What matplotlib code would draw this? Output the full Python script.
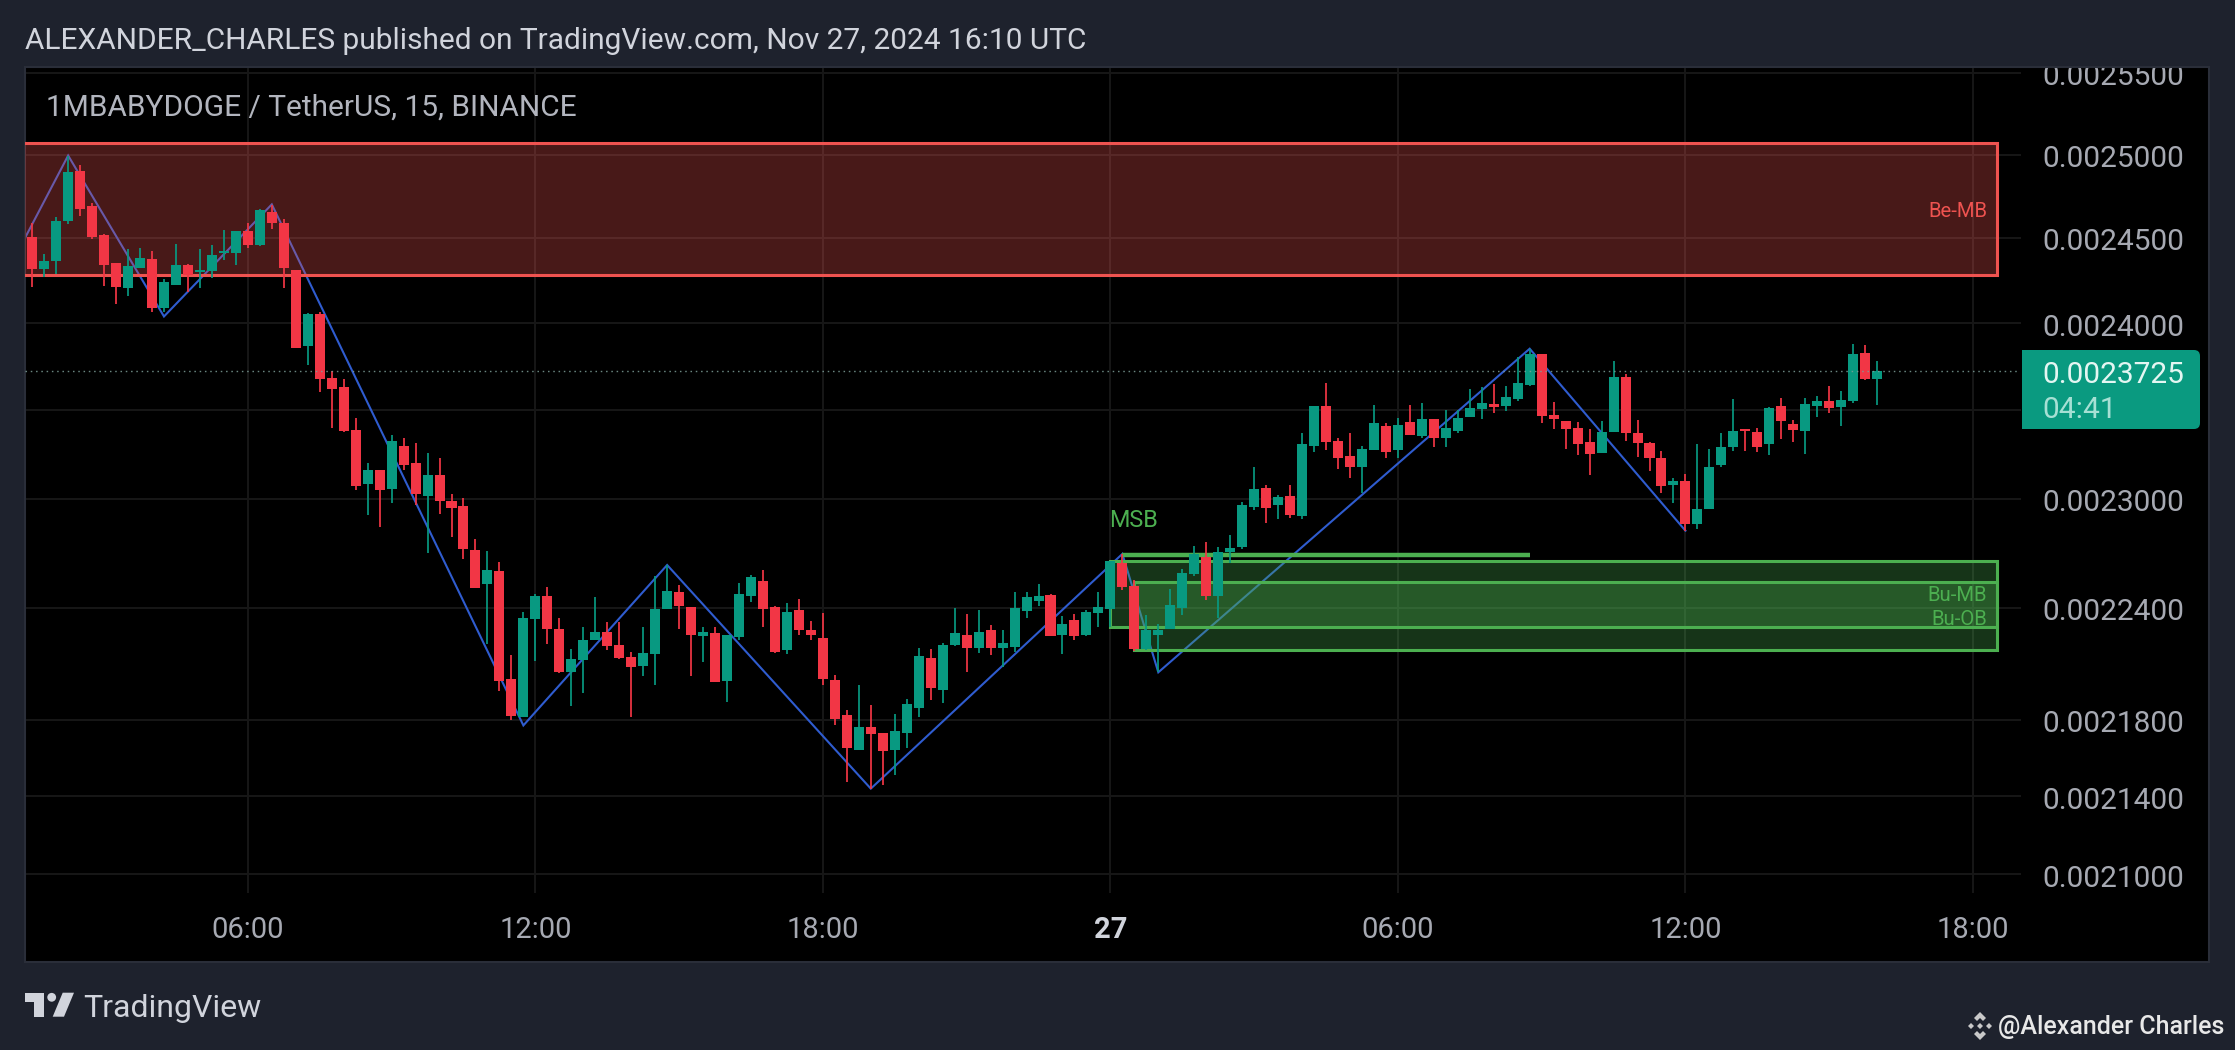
import numpy as np
import matplotlib
matplotlib.use('Agg')
import matplotlib.pyplot as plt
from matplotlib.patches import Rectangle, Polygon, Circle, FancyBboxPatch
from matplotlib.ticker import FixedLocator, FixedFormatter, NullLocator
from matplotlib.transforms import ScaledTranslation

plt.rcParams['font.family'] = ['Roboto', 'DejaVu Sans']

#------------------------------------------------------------------------------
# Kerzen, Preise in 1e-7 (15 Minuten, Index 0 = 26.11. 01:30)
opens = [24508,24317,24364,24598,24898,24688,24520,24352,24205,24323,
         24376,24087,24223,24341,24299,24305,24412,24412,24544,24459,
         24652,24586,24311,23868,24052,23684,23632,23388,23080,23158,
         23056,23293,23198,23017,23130,22989,22961,22717,22528,22600,
         22014,21816,22341,22461,22287,22052,22116,22223,22266,22196,
         22132,22084,22148,22395,22483,22406,22245,22261,22003,22239,
         22461,22544,22406,22170,22389,22282,22234,22009,21826,21639,
         21764,21732,21639,21732,21864,22127,21960,22196,22250,22180,
         22277,22180,22186,22384,22439,22467,22250,22336,22250,22373,
         22395,22644,22517,22175,22255,22287,22400,22583,22678,22461,
         22706,22733,22956,23062,22967,23017,22906,23293,23523,23321,
         23237,23175,23270,23410,23270,23433,23354,23450,23338,23382,
         23461,23506,23534,23523,23563,23643,23822,23472,23438,23399,
         23315,23254,23377,23690,23371,23310,23226,23078,23101,22861,
         22945,23186,23287,23394,23377,23304,23523,23422,23382,23523,
         23552,23517,23552,23828,23678]
closes = [24317,24364,24598,24892,24670,24508,24341,24211,24335,24382,
          24087,24240,24341,24282,24311,24400,24423,24544,24459,24664,
          24586,24323,23856,24052,23678,23620,23382,23073,23158,23050,
          23326,23186,23028,23130,22989,22950,22722,22506,22606,22003,
          21821,22346,22461,22287,22052,22121,22223,22271,22191,22127,
          22078,22153,22395,22489,22411,22250,22266,21998,22250,22472,
          22567,22395,22159,22379,22282,22255,22014,21805,21649,21764,
          21727,21634,21743,21885,22137,21971,22196,22261,22180,22266,
          22180,22207,22400,22456,22461,22245,22314,22245,22379,22406,
          22656,22511,22175,22277,22277,22417,22589,22694,22461,22706,
          22728,22967,23056,22950,23011,22911,23304,23523,23315,23226,
          23175,23276,23427,23259,23416,23360,23450,23338,23399,23455,
          23512,23540,23517,23574,23655,23822,23466,23450,23394,23304,
          23248,23377,23690,23366,23310,23226,23073,23101,22861,22945,
          23175,23287,23382,23382,23287,23512,23438,23388,23534,23552,
          23512,23557,23822,23678,23725]
highs = [24586,24406,24622,24994,24934,24706,24526,24352,24435,24441,
         24423,24258,24465,24347,24435,24459,24550,24544,24586,24670,
         24694,24610,24311,24058,24063,23724,23678,23455,23198,23158,
         23360,23343,23310,23254,23226,23028,23006,22778,22711,22650,
         22143,22379,22472,22511,22346,22175,22298,22456,22325,22325,
         22159,22293,22572,22633,22522,22406,22298,22293,22255,22533,
         22578,22606,22411,22428,22450,22330,22373,22035,21853,21982,
         21880,21732,21832,21912,22180,22175,22207,22400,22368,22389,
         22309,22277,22483,22483,22528,22472,22357,22368,22389,22483,
         22656,22694,22550,22362,22314,22500,22611,22739,22761,22733,
         22800,22983,23176,23078,23022,23078,23366,23523,23655,23343,
         23371,23293,23529,23427,23455,23529,23540,23450,23500,23500,
         23620,23632,23649,23638,23805,23851,23822,23546,23438,23433,
         23394,23438,23781,23707,23444,23315,23265,23118,23135,23304,
         23276,23366,23563,23394,23399,23517,23569,23444,23569,23580,
         23638,23609,23879,23873,23781]
lows = [24211,24270,24288,24580,24628,24494,24217,24111,24158,24323,
        24063,24063,24223,24181,24205,24264,24370,24341,24441,24453,
        24556,24205,23856,23758,23603,23399,23377,23050,22911,22845,
        22978,23158,22967,22700,22917,22789,22667,22506,22202,21955,
        21800,21816,22111,22202,22046,21875,21944,22223,22170,22121,
        21816,22030,21982,22395,22287,22030,22105,21998,21896,22223,
        22433,22293,22153,22148,22255,22223,21982,21774,21472,21639,
        21436,21457,21509,21649,21816,21907,21891,22191,22052,22153,
        22143,22078,22159,22346,22411,22245,22148,22223,22245,22298,
        22298,22494,22164,22170,22052,22287,22362,22572,22444,22346,
        22644,22722,22939,22867,22889,22894,22889,23259,23270,23164,
        23114,23034,23270,23226,23226,23360,23338,23287,23287,23371,
        23461,23450,23483,23494,23552,23638,23427,23394,23276,23242,
        23130,23254,23377,23321,23231,23153,23034,22978,22822,22833,
        22945,23175,23265,23265,23259,23242,23332,23315,23248,23461,
        23483,23410,23540,23672,23529]

# Zickzack-Linie
zigzag_k = [-0.6, 3, 11, 20, 41, 53, 70, 91, 94, 125, 138]
zigzag_p = [24500, 24994, 24038, 24700, 21770, 22633, 21439, 22694, 22052, 23851, 22822]

# Zonen: (k von, k bis, Preis unten, Preis oben)
be_mb = (-3, 164, 24282, 25070)
bu_mb = (90, 164, 22298, 22656)
bu_ob = (92, 164, 22170, 22539)
msb_line = (91, 125, 22688)

last_price = 23725

# Achsen
price_ticks = [25500, 25000, 24500, 24000, 23500, 23000, 22400, 21800, 21400, 21000]
price_labels = ['0.0025500', '0.0025000', '0.0024500', '0.0024000', '', '0.0023000',
                '0.0022400', '0.0021800', '0.0021400', '0.0021000']
time_ticks = [18, 42, 66, 90, 114, 138, 162]
time_labels = ['06:00', '12:00', '18:00', '27', '06:00', '12:00', '18:00']

UNIT = 1e-7
BG = '#1e222d'
UP = '#089981'
DOWN = '#f23645'
RED = '#ef5350'
GREEN = '#4caf50'
BLUE = '#2f5ccf'
GRID = '#161616'
LABEL = '#a6a9b2'

#------------------------------------------------------------------------------
W, H = 2235, 1050
fig = plt.figure(figsize=(W/100, H/100), dpi=100, facecolor=BG)
L, R, T, B = 25, 2209, 66.7, 962
ax = fig.add_axes([L/W, 1-B/H, (R-L)/W, (B-T)/H], facecolor='black')
ax.set_yscale('log')

o = np.array(opens)*UNIT
c = np.array(closes)*UNIT
hi = np.array(highs)*UNIT
lo = np.array(lows)*UNIT
k = np.arange(len(o))
col = np.where(c >= o, UP, DOWN)

ax.set_xlim((L-32.2)/11.98, (R-32.2)/11.98)
ax.set_ylim(20557*UNIT, 25538*UNIT)

# Gitter
for p in price_ticks:
    ax.axhline(p*UNIT, xmax=(2020-L)/(R-L), color=GRID, lw=1.5, zorder=1)
for t in time_ticks:
    ax.axvline(t, ymin=(B-892)/(B-T), color=GRID, lw=1.5, zorder=1)
ax.axhline(last_price*UNIT, xmax=(2020-L)/(R-L), color='#7d9f98', lw=1.0, ls=(0, (1.1, 2.7)), alpha=0.85, zorder=6)

# Zickzack unter den Zonen
ax.plot(zigzag_k, np.array(zigzag_p)*UNIT, color=BLUE, lw=1.5, zorder=2, solid_joinstyle='miter')

# Zonen
for box, color, a in [(be_mb, RED, 0.3), (bu_mb, GREEN, 0.3), (bu_ob, GREEN, 0.3)]:
    x0, x1, p0, p1 = box
    ax.add_patch(Rectangle((x0, p0*UNIT), x1-x0, (p1-p0)*UNIT, fc=color, ec='none', alpha=a, zorder=3))
    ax.add_patch(Rectangle((x0, p0*UNIT), x1-x0, (p1-p0)*UNIT, fc='none', ec=color, lw=2.2, zorder=3.1))
ax.plot(msb_line[:2], [msb_line[2]*UNIT]*2, color=GREEN, lw=3.2, zorder=3.2, solid_capstyle='butt')

# Kerzen
ax.vlines(k, lo, hi, colors=col, lw=1.25, zorder=4)
ax.bar(k, np.abs(c-o), bottom=np.minimum(o, c), width=0.835, color=col, lw=0, zorder=5)

# Beschriftung der Zonen
ax.text(163.17, 24660*UNIT, 'Be-MB', color=RED, fontsize=14.6, ha='right', va='center', zorder=7)
ax.text(163.17, 22468*UNIT, 'Bu-MB', color=GREEN, fontsize=14.6, ha='right', va='center', zorder=7)
ax.text(163.17, 22337*UNIT, 'Bu-OB', color=GREEN, fontsize=14.6, ha='right', va='center', zorder=7)
ax.text(91.9, 22878*UNIT, 'MSB', color=GREEN, fontsize=16.8, ha='center', va='center', zorder=7)

# Achsen im Bereich
ax.yaxis.tick_right()
ax.yaxis.set_major_locator(FixedLocator(np.array(price_ticks)*UNIT))
ax.yaxis.set_major_formatter(FixedFormatter(price_labels))
ax.yaxis.set_minor_locator(NullLocator())
ax.xaxis.set_major_locator(FixedLocator(time_ticks))
ax.xaxis.set_major_formatter(FixedFormatter(time_labels))
ax.tick_params(axis='y', length=0, pad=-119.8, labelsize=21.5, labelcolor=LABEL)
ax.tick_params(axis='x', length=0, pad=-33, labelsize=21, labelcolor=LABEL)
fig.canvas.draw()
nudge = ScaledTranslation(0, -1.5/100, fig.dpi_scale_trans)
for lbl in ax.get_yticklabels():
    lbl.set_transform(lbl.get_transform() + nudge)
    lbl.set_clip_box(ax.bbox)
    lbl.set_clip_on(True)
for lbl in ax.get_xticklabels():
    if lbl.get_text() == '27':
        lbl.set_fontweight('bold')
        lbl.set_color('#d1d4dc')
for s in ax.spines.values():
    s.set_color('#2a2e39')
    s.set_linewidth(1.5)

#------------------------------------------------------------------------------
# Rahmen in Bildpixeln
top = fig.add_axes([0, 0, 1, 1], facecolor='none', zorder=10)
top.set_xlim(0, W)
top.set_ylim(H, 0)
top.axis('off')

top.text(25, 41, 'ALEXANDER_CHARLES published on TradingView.com, Nov 27, 2024 16:10 UTC',
         color='#d1d4dc', fontsize=21.5, va='center', ha='left')
top.text(45.5, 107.5, '1MBABYDOGE / TetherUS, 15, BINANCE', color='#b2b5be', fontsize=21.5, va='center', ha='left')

# Preisschild
top.add_patch(FancyBboxPatch((2030, 350), 170, 79, boxstyle='round,pad=0,rounding_size=6', fc='#0a9a80', ec='none'))
top.add_patch(Rectangle((2022, 350), 20, 79, fc='#0a9a80', ec='none'))
top.text(2042.5, 375, '0.0023725', color='#e4f6f2', fontsize=21.5, va='center', ha='left')
top.text(2042.5, 410, '04:41', color='#a6e0d4', fontsize=21.5, va='center', ha='left')

# TradingView Logo
logo = '#d1d4dc'
top.add_patch(Polygon([(25, 992.7), (44.3, 992.7), (44.3, 1016.7), (34.3, 1016.7), (34.3, 1002.3), (25, 1002.3)], fc=logo, ec='none'))
top.add_patch(Circle((51.7, 997.3), 4.4, fc=logo, ec='none'))
top.add_patch(Polygon([(62.7, 992.7), (74, 992.7), (64, 1016.7), (52.7, 1016.7)], fc=logo, ec='none'))
top.text(83, 1008.5, 'TradingView', color=logo, fontsize=23, va='center', ha='left')

# Wasserzeichen
wm = '#c9c9c9'
top.add_patch(Polygon([(1980, 1012), (1986, 1018), (1983, 1021), (1980, 1018), (1977, 1021), (1974, 1018)], fc=wm, ec='none'))
top.add_patch(Polygon([(1980, 1040), (1986, 1034), (1983, 1031), (1980, 1034), (1977, 1031), (1974, 1034)], fc=wm, ec='none'))
top.add_patch(Polygon([(1980, 1023), (1983, 1026), (1980, 1029), (1977, 1026)], fc=wm, ec='none'))
top.add_patch(Polygon([(1971, 1023), (1974, 1026), (1971, 1029), (1968, 1026)], fc=wm, ec='none'))
top.add_patch(Polygon([(1989, 1023), (1992, 1026), (1989, 1029), (1986, 1026)], fc=wm, ec='none'))
top.text(1998, 1027, '@Alexander Charles', color='#e8e8e8', fontsize=18.0, fontweight='medium', va='center', ha='left')

fig.savefig('out.png', dpi=100, facecolor=BG)
